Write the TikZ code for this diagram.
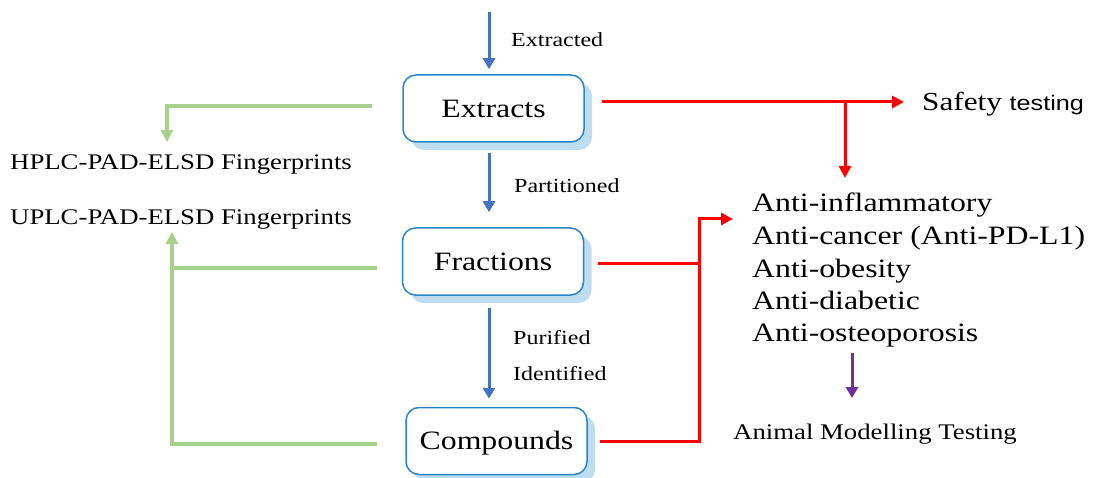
\documentclass[tikz,border=0pt]{standalone}
\usepackage{fontspec}
\setmainfont{Liberation Serif}[FakeStretch=1.2]
\newfontfamily\sansf{Liberation Sans}[FakeStretch=1.2]
\usetikzlibrary{arrows.meta,shadows}
\definecolor{bblue}{RGB}{68,114,196}
\definecolor{boxline}{RGB}{38,134,200}
\definecolor{boxshadow}{RGB}{190,222,240}
\definecolor{rred}{RGB}{255,0,0}
\definecolor{ggreen}{RGB}{169,209,142}
\definecolor{ppurple}{RGB}{112,48,160}
\tikzset{
  procbox/.style={draw=boxline, line width=1.5pt, rounded corners=13pt, fill=white,
    minimum width=181pt, minimum height=67pt, inner sep=0pt,
    font=\fontsize{26.5}{30}\selectfont, text height=17.5pt, text depth=0pt,
    drop shadow={shadow xshift=8pt, shadow yshift=-8pt, fill=boxshadow, opacity=1}},
  smalllab/.style={anchor=base west, inner sep=0pt, font=\fontsize{20}{24}\selectfont},
  midlab/.style={anchor=base west, inner sep=0pt, font=\fontsize{22.3}{26}\selectfont},
  biglab/.style={anchor=base west, inner sep=0pt, font=\fontsize{26.5}{30}\selectfont},
  barrow/.style={draw=bblue, line width=3pt, -{Triangle[width=12pt,length=11pt]}},
  rline/.style={draw=rred, line width=3pt},
  rarrow/.style={rline, -{Triangle[width=12pt,length=12pt]}},
  gline/.style={draw=ggreen, line width=3.2pt},
  garrow/.style={gline, -{Triangle[width=12pt,length=12pt]}},
  parrow/.style={draw=ppurple, line width=3pt, -{Triangle[width=12pt,length=11pt]}}
}
\begin{document}
\begin{tikzpicture}[x=1pt,y=-1pt]
\useasboundingbox (0,0) rectangle (1094,478);

% process boxes
\node[procbox] (ext)  at (493.5,108.5) {Extracts};
\node[procbox] (frac) at (493,261.5) {Fractions};
\node[procbox] (comp) at (496.5,441) {Compounds};

% blue flow
\coordinate (top) at (489,12);
\draw[barrow] (top) -- ([yshift=5pt]top |- ext.north);
\draw[barrow] ([yshift=-10pt]top |- ext.south) -- ([yshift=15pt]top |- frac.north);
\draw[barrow] ([yshift=-12pt]top |- frac.south) -- ([yshift=8pt]top |- comp.north);
\node[smalllab] (l1) at (511,47) {Extracted};
\node[smalllab] (l2) at (514,193) {Partitioned};
\node[smalllab] (l3) at (513,344) {Purified};
\node[smalllab] (l4) at (513,380) {Identified};

% left fingerprints
\node[midlab] (hplc) at (10,170) {HPLC-PAD-ELSD Fingerprints};
\node[midlab] (uplc) at (10,225) {UPLC-PAD-ELSD Fingerprints};
\coordinate (gtip1) at (167,142);
\coordinate (gtip2) at (172,232);
\draw[garrow] ([xshift=-30pt,yshift=2.5pt]ext.west) -| (gtip1);
\draw[gline] ([xshift=-25pt,yshift=-6.5pt]frac.west) -- ([yshift=-6.5pt]frac.west -| gtip2);
\draw[garrow] ([xshift=-28pt,yshift=-3pt]comp.west) -| (gtip2);

% right side
\node[anchor=west, inner xsep=18pt, inner ysep=0pt, text height=17pt, text depth=0pt,
      font=\fontsize{26}{30}\selectfont] (safety) at (904,102)
      {Safety {\sansf\fontsize{21}{24}\selectfont testing}};
\draw[rarrow] ([xshift=17pt,yshift=6.5pt]ext.east) -- (safety.west);
\coordinate (j1) at (845,102);
\coordinate (j1tip) at (845,178);
\draw[rarrow] (j1) -- (j1tip);

\node[biglab] (a1) at (752,212) {Anti-inflammatory};
\node[biglab] (a2) at (752,244) {Anti-cancer (Anti-PD-L1)};
\node[biglab] (a3) at (752,277) {Anti-obesity};
\node[biglab] (a4) at (752,309) {Anti-diabetic};
\node[biglab] (a5) at (752,341) {Anti-osteoporosis};

\coordinate (bus) at (699,219);
\coordinate (antiin) at (733,219);
\draw[rline] ([xshift=14pt,yshift=-1.5pt]frac.east) -- ([yshift=-1.5pt]frac.east -| bus);
\draw[rarrow] ([xshift=12pt]comp.east) -| (bus) -- (antiin);

\node[midlab] (animal) at (733,439) {Animal Modelling Testing};
\coordinate (p0) at (852,353);
\coordinate (p1) at (852,398);
\draw[parrow] (p0) -- (p1);
\end{tikzpicture}
\end{document}
